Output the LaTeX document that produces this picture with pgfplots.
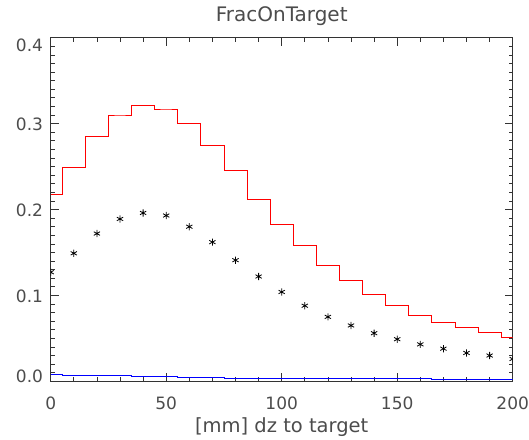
\documentclass[border=0pt]{standalone}
\usepackage{pgfplots}
\pgfplotsset{compat=1.18}
\usepackage{fontspec}
\setmainfont{DejaVu Sans}

% fraction of tracks on target, per 10 mm bin of dz
\pgfplotstableread{
x   frac
0   0.217
10  0.249
20  0.285
30  0.310
40  0.321
50  0.317
60  0.300
70  0.275
80  0.245
90  0.212
100 0.183
110 0.158
120 0.135
130 0.117
140 0.101
150 0.088
160 0.077
170 0.069
180 0.063
190 0.057
200 0.051
}\redhist

\pgfplotstableread{
x   frac
0   0.127
10  0.149
20  0.172
30  0.189
40  0.196
50  0.193
60  0.180
70  0.162
80  0.141
90  0.122
100 0.104
110 0.088
120 0.075
130 0.065
140 0.056
150 0.049
160 0.043
170 0.038
180 0.033
190 0.030
200 0.026
}\stars

\pgfplotstableread{
x   frac
0   0.0080
10  0.0070
20  0.0070
30  0.0070
40  0.0058
50  0.0058
60  0.0047
70  0.0047
80  0.0038
90  0.0038
100 0.0038
110 0.0030
120 0.0030
130 0.0030
140 0.0030
150 0.0030
160 0.0030
170 0.0022
180 0.0022
190 0.0022
200 0.0022
}\bluehist

\begin{document}
\begin{tikzpicture}
\path[use as bounding box] (-50.7pt,-57.7pt) rectangle (478.3pt,381.3pt);
\begin{axis}[
  at={(0pt,0pt)}, anchor=south west,
  scale only axis, width=462pt, height=343.6pt,
  xmin=0, xmax=200, ymin=0, ymax=0.4,
  clip marker paths=true,
  xtick={0,50,100,150,200},
  ytick={0,0.1,0.2,0.3,0.4},
  yticklabels={\raisebox{6pt}[\height][\depth]{0.0},0.1,0.2,0.3,\raisebox{-7pt}[\height][\depth]{0.4}},
  minor x tick num=4,
  minor y tick num=9,
  major tick length=8pt,
  minor tick length=4pt,
  tick style={black!80, line width=0.7pt},
  axis line style={black!80, line width=0.8pt},
  /pgf/number format/assume math mode=true,
  ticklabel style={font=\fontsize{17}{20}\selectfont, text=black!70},
  xticklabel style={anchor=north, inner sep=0pt, yshift=-15pt},
  yticklabel style={anchor=east, inner sep=0pt, xshift=-7.5pt, yshift=-1pt},
  title={FracOnTarget},
  title style={at={(0.5,1)}, anchor=base, yshift=10.5pt, inner sep=0pt,
    font=\fontsize{20}{24}\selectfont, text=black!70},
  xlabel={[mm] dz to target},
  xlabel style={at={(0.5,0)}, anchor=base, yshift=-51pt, inner sep=0pt,
    font=\fontsize{19.5}{23}\selectfont, text=black!70},
]
\addplot[const plot mark mid, red, line width=0.8pt] table[x=x, y=frac] {\redhist};
\addplot[const plot mark mid, blue, line width=0.8pt] table[x=x, y=frac] {\bluehist};
\addplot[only marks, mark=asterisk, mark size=3.6pt, black, line width=0.8pt] table[x=x, y=frac] {\stars};
\end{axis}
\end{tikzpicture}
\end{document}
